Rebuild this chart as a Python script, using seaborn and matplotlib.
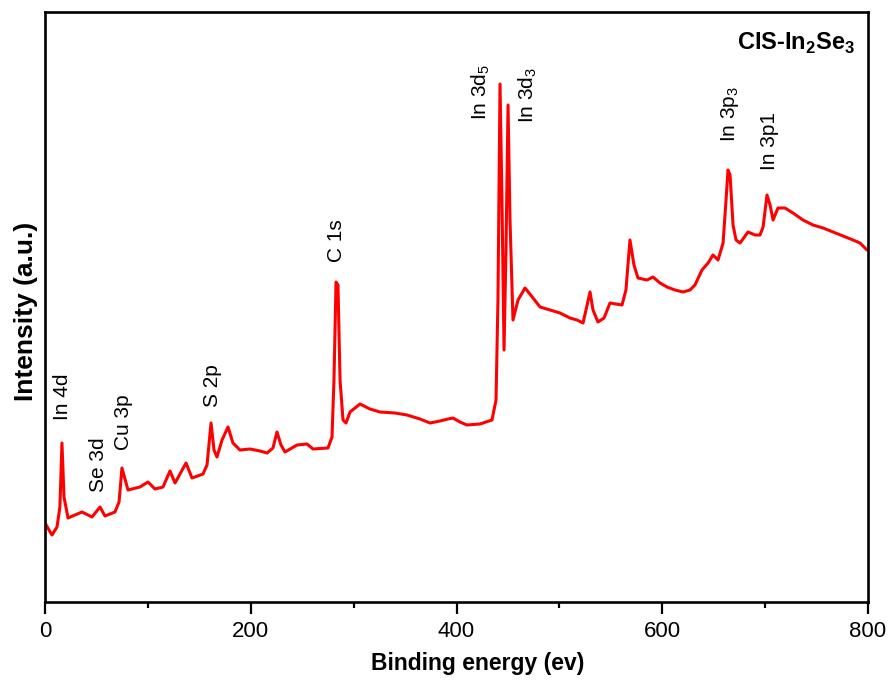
import pandas as pd
import seaborn as sns
import matplotlib.pyplot as plt
from matplotlib.ticker import MultipleLocator

# survey spectrum (arb. units)
energy = [0, 6.8, 11.7, 14.5, 16.5, 18.5, 22.4, 36.0, 45.7, 53.5, 58.3, 68.0, 72.0, 74.8,
          80.7, 92.3, 100.1, 106.9, 114.7, 121.5, 126.4, 137.1, 142.9, 153.6, 157.5,
          161.4, 164.3, 167.2, 172.1, 177.9, 182.7, 189.5, 199.3, 209.0, 215.8, 221.6,
          225.5, 229.4, 233.3, 245.0, 254.7, 260.5, 275.1, 279.0, 280.9, 282.9, 284.8,
          286.8, 289.7, 292.6, 296.5, 306.2, 315.9, 325.6, 340.2, 351.9, 364.5, 374.2,
          384.0, 391.7, 396.6, 403.4, 410.2, 422.8, 434.5, 438.4, 440.3, 442.3, 444.2,
          446.2, 448.1, 450.1, 452.0, 454.9, 459.8, 466.6, 474.4, 481.2, 490.9, 500.6,
          510.3, 517.1, 523.0, 526.9, 529.8, 532.7, 537.5, 543.4, 549.2, 560.9, 564.7,
          568.6, 572.5, 576.4, 585.2, 591.0, 597.8, 604.6, 612.4, 620.2, 627.0, 631.8,
          638.6, 644.5, 649.3, 654.2, 659.1, 662.0, 663.9, 665.9, 668.8, 671.7, 675.6,
          683.4, 690.2, 695.0, 698.0, 701.8, 704.8, 707.7, 712.5, 719.3, 727.1, 736.8,
          746.5, 756.3, 766.0, 775.7, 785.4, 792.2, 799.0]
intensity = [79, 67, 75, 95, 159, 105, 84, 90, 85, 95, 86, 90, 100, 134,
             112, 115, 120, 113, 115, 131, 119, 139, 124, 128, 137,
             179, 152, 145, 162, 175, 159, 152, 153, 151, 149, 154,
             170, 157, 150, 157, 158, 153, 154, 165, 222, 320, 317,
             222, 182, 179, 190, 198, 193, 190, 189, 187, 183, 179,
             181, 183, 184, 180, 177, 178, 182, 202, 302, 518, 402,
             252, 352, 497, 382, 282, 302, 314, 304, 295, 292, 289,
             284, 282, 279, 297, 310, 292, 280, 284, 299, 297, 312,
             362, 337, 324, 322, 325, 319, 315, 312, 310, 312, 317,
             332, 339, 347, 342, 359, 402, 432, 427, 377, 362, 359,
             370, 367, 367, 375, 407, 397, 382, 394, 394, 389, 382,
             377, 374, 370, 366, 362, 359, 352]

peak_labels = ["In 4d", "Se 3d", "Cu 3p", "S 2p", "C 1s",
               r"In 3d$_5$", r"In 3d$_3$", r"In 3p$_3$", "In 3p1"]
label_x = [17.5, 52.5, 76, 162.4, 283.8, 423.8, 469.5, 666, 704]
label_y = [182, 110, 152, 195, 340, 482, 479, 460, 432]

df = pd.DataFrame({"energy": energy, "intensity": intensity})

sns.set_theme(style="ticks")
plt.rcParams["font.family"] = ["Liberation Sans", "DejaVu Sans"]
plt.rcParams["mathtext.fontset"] = "custom"
plt.rcParams["mathtext.rm"] = "Liberation Sans"
plt.rcParams["mathtext.bf"] = "Liberation Sans:bold"
plt.rcParams["text.color"] = "black"
plt.rcParams["axes.labelcolor"] = "black"

fig = plt.figure(figsize=(8.89, 6.82), dpi=100)
ax = fig.add_axes([0.0506, 0.1173, 0.9258, 0.8651])

sns.lineplot(data=df, x="energy", y="intensity", color="#ff0000", lw=2.2, ax=ax)

ax.set_xlim(0, 800)
ax.set_ylim(0, 590)
ax.set_yticks([])
ax.xaxis.set_major_locator(MultipleLocator(200))
ax.xaxis.set_minor_locator(MultipleLocator(100))
ax.tick_params(axis="x", which="major", direction="out", length=8.5, width=1.6,
               pad=5, labelsize=16, colors="black")
ax.tick_params(axis="x", which="minor", direction="out", length=4.5, width=1.6,
               colors="black")
for s in ax.spines.values():
    s.set_visible(True)
    s.set_linewidth(1.9)
    s.set_color("black")

ax.set_xlabel("Binding energy (ev)", fontsize=16.5, fontweight="bold")
ax.set_ylabel("Intensity (a.u.)", fontsize=19, fontweight="bold")
ax.xaxis.set_label_coords(0.526, -0.084)
ax.yaxis.set_label_coords(-0.009, 0.493)

for t, x, y in zip(peak_labels, label_x, label_y):
    ax.text(x, y, t, rotation=90, ha="center", va="bottom", fontsize=15)

ax.text(787.4, 571, r"CIS-In$_\mathbf{2}$Se$_\mathbf{3}$", ha="right", va="top",
        fontsize=17, fontweight="bold")

fig.savefig("out.png", dpi=100)
